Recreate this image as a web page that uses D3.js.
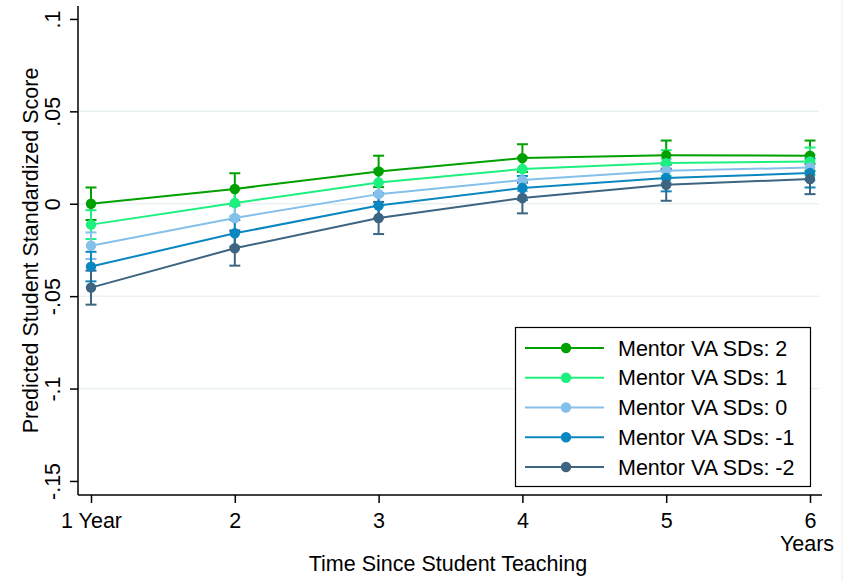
<!DOCTYPE html>
<html>
<head>
<meta charset="utf-8">
<script src="https://cdn.jsdelivr.net/npm/d3@7"></script>
<style>
  html, body { margin: 0; padding: 0; background: #fff; }
  svg { display: block; }
  text { font-family: "Liberation Sans", Arial, sans-serif; fill: #000; }
</style>
</head>
<body>
<svg id="chart" width="846" height="581"></svg>
<script>
// ---------- data ----------
const years = [1, 2, 3, 4, 5, 6];
const xTickLabels = ["1 Year", "2", "3", "4", "5", "6"];
const yTicks = [-0.15, -0.1, -0.05, 0, 0.05, 0.1];
const yTickLabels = ["-.15", "-.1", "-.05", "0", ".05", ".1"];
const seriesNames = ["Mentor VA SDs: 2", "Mentor VA SDs: 1", "Mentor VA SDs: 0", "Mentor VA SDs: -1", "Mentor VA SDs: -2"];
const seriesColors = ["#00a000", "#1cf07e", "#85c0ea", "#0a87c0", "#3d6480"];

const valsP2 = [0.000, 0.008, 0.0175, 0.0247, 0.0262, 0.026];
const valsP1 = [-0.0113, 0.0004, 0.0115, 0.0188, 0.022, 0.0229];
const valsZ0 = [-0.0227, -0.0077, 0.0052, 0.0128, 0.0178, 0.0196];
const valsM1 = [-0.034, -0.016, -0.001, 0.0085, 0.0139, 0.0166];
const valsM2 = [-0.0454, -0.0241, -0.0077, 0.0031, 0.0103, 0.0134];

const ciP2 = [0.0088, 0.0085, 0.0085, 0.0075, 0.0080, 0.0082];
const ciP1 = [0.0078, 0.0072, 0.0070, 0.0065, 0.0070, 0.0075];
const ciZ0 = [0.0072, 0.0065, 0.0062, 0.0060, 0.0065, 0.0070];
const ciM1 = [0.0080, 0.0072, 0.0068, 0.0065, 0.0072, 0.0078];
const ciM2 = [0.0092, 0.0094, 0.0087, 0.0083, 0.0087, 0.0082];

const xTitle = "Time Since Student Teaching";
const yTitle = "Predicted Student Standardized Score";
const xTickSubLabel = "Years";

const seriesVals = [valsP2, valsP1, valsZ0, valsM1, valsM2];
const seriesCI = [ciP2, ciP1, ciZ0, ciM1, ciM2];

// ---------- layout ----------
const svg = d3.select("#chart");
const plotL = 78, plotR = 822, plotT = 6, plotB = 495;
const fs = 21.5;

const x = d3.scaleLinear().domain([0.9096, 6.0834]).range([plotL, plotR]);
const y = d3.scaleLinear().domain([-0.1576, 0.107]).range([plotB, plotT]);

// faint outer edge
svg.append("line").attr("x1", 842).attr("x2", 842).attr("y1", 0).attr("y2", 581)
  .attr("stroke", "#ececec").attr("stroke-width", 1);

// gridlines (skip extreme ticks)
svg.append("g").selectAll("line")
  .data(yTicks.filter(v => v > -0.15 && v < 0.1))
  .join("line")
  .attr("x1", plotL).attr("x2", 819)
  .attr("y1", d => y(d)).attr("y2", d => y(d))
  .attr("stroke", "#eaf1f3").attr("stroke-width", 1.5);

// axes
const xAxis = d3.axisBottom(x).tickValues(years).tickSize(8).tickPadding(8)
  .tickFormat((d, i) => xTickLabels[i]);
const gx = svg.append("g").attr("transform", `translate(0,${plotB})`).call(xAxis);
gx.select(".domain").attr("d", `M${plotL},0H${plotR}`).attr("stroke", "#000").attr("stroke-width", 1.5);
gx.selectAll(".tick line").attr("stroke", "#000").attr("stroke-width", 1.5);
gx.selectAll(".tick text").attr("font-size", fs).attr("font-family", "Liberation Sans, Arial, sans-serif")
  .attr("y", 0).attr("dy", null).attr("transform", "translate(0,33)");
gx.append("text").attr("x", x(6) - 3).attr("y", 56).attr("text-anchor", "middle")
  .attr("font-size", fs).attr("fill", "#000").text(xTickSubLabel);

const yAxis = d3.axisLeft(y).tickValues(yTicks).tickSize(8)
  .tickFormat((d, i) => yTickLabels[i]);
const gy = svg.append("g").attr("transform", `translate(${plotL},0)`).call(yAxis);
gy.select(".domain").attr("d", `M0,${plotT}V${plotB}`).attr("stroke", "#000").attr("stroke-width", 1.5);
gy.selectAll(".tick line").attr("stroke", "#000").attr("stroke-width", 1.5);
gy.selectAll(".tick text").attr("font-size", fs).attr("font-family", "Liberation Sans, Arial, sans-serif")
  .attr("x", null).attr("dy", null).attr("text-anchor", "middle")
  .attr("transform", "translate(-18,0) rotate(-90)");

// axis titles
svg.append("text").attr("x", 448).attr("y", 571)
  .attr("text-anchor", "middle").attr("font-size", fs).text(xTitle);
svg.append("text").attr("transform", `translate(38,${(plotT + plotB) / 2}) rotate(-90)`)
  .attr("text-anchor", "middle").attr("font-size", fs).text(yTitle);

// ---------- series ----------
const capW = 5.5;
const plot = svg.append("g");
seriesVals.forEach((vals, s) => {
  const col = seriesColors[s];
  const ci = seriesCI[s];
  const g = plot.append("g");
  const pts = years.map((yr, i) => ({ yr, v: vals[i], lo: vals[i] - ci[i], hi: vals[i] + ci[i] }));
  g.selectAll("line.bar").data(pts).join("line").attr("class", "bar")
    .attr("x1", d => x(d.yr)).attr("x2", d => x(d.yr))
    .attr("y1", d => y(d.lo)).attr("y2", d => y(d.hi))
    .attr("stroke", col).attr("stroke-width", 2);
  g.selectAll("line.capHi").data(pts).join("line").attr("class", "capHi")
    .attr("x1", d => x(d.yr) - capW).attr("x2", d => x(d.yr) + capW)
    .attr("y1", d => y(d.hi)).attr("y2", d => y(d.hi))
    .attr("stroke", col).attr("stroke-width", 2);
  g.selectAll("line.capLo").data(pts).join("line").attr("class", "capLo")
    .attr("x1", d => x(d.yr) - capW).attr("x2", d => x(d.yr) + capW)
    .attr("y1", d => y(d.lo)).attr("y2", d => y(d.lo))
    .attr("stroke", col).attr("stroke-width", 2);
});
seriesVals.forEach((vals, s) => {
  const col = seriesColors[s];
  const pts = years.map((yr, i) => ({ yr, v: vals[i] }));
  const line = d3.line().x(d => x(d.yr)).y(d => y(d.v));
  plot.append("path").datum(pts).attr("d", line)
    .attr("fill", "none").attr("stroke", col).attr("stroke-width", 2);
  plot.append("g").selectAll("circle").data(pts).join("circle")
    .attr("cx", d => x(d.yr)).attr("cy", d => y(d.v)).attr("r", 5.2)
    .attr("fill", col);
});

// ---------- legend ----------
const lg = svg.append("g");
lg.append("rect").attr("x", 515.5).attr("y", 327.5).attr("width", 295).attr("height", 159)
  .attr("fill", "#fff").attr("stroke", "#000").attr("stroke-width", 1.2);
const rowY = d3.scalePoint().domain(seriesNames).range([348, 467]);
seriesNames.forEach((name, s) => {
  const ry = rowY(name);
  lg.append("line").attr("x1", 525).attr("x2", 604).attr("y1", ry).attr("y2", ry)
    .attr("stroke", seriesColors[s]).attr("stroke-width", 2);
  lg.append("circle").attr("cx", 566).attr("cy", ry).attr("r", 5.2).attr("fill", seriesColors[s]);
  lg.append("text").attr("x", 618).attr("y", ry + 7.5).attr("font-size", fs).text(name);
});
</script>
</body>
</html>
